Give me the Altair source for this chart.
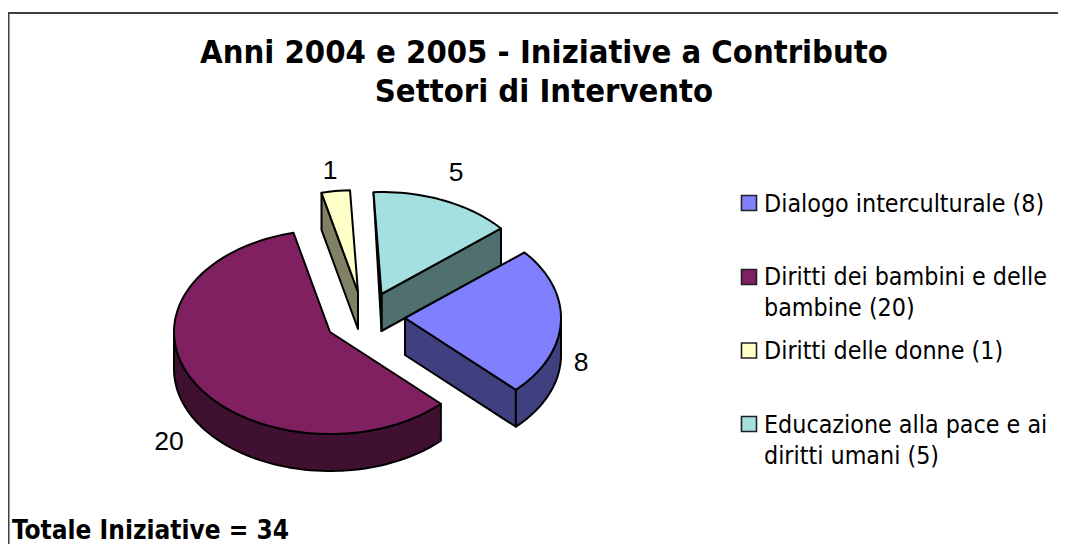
import math
import altair as alt
import pandas as pd

# ---- data ----
categories = ["Dialogo interculturale (8)", "Diritti dei bambini e delle bambine (20)",
              "Diritti delle donne (1)", "Educazione alla pace e ai diritti umani (5)"]
values = [8, 20, 1, 5]
value_labels = ["8", "20", "1", "5"]
top_colors = ["#8080FF", "#802060", "#FFFFC8", "#A4E0E0"]
side_colors = ["#404080", "#401030", "#808064", "#507070"]
title_lines = ["Anni 2004 e 2005 - Iniziative a Contributo", "Settori di Intervento"]
footer = "Totale Iniziative = 34"
legend_lines = [["Dialogo interculturale (8)"], ["Diritti dei bambini e delle", "bambine (20)"],
                ["Diritti delle donne (1)"], ["Educazione alla pace e ai", "diritti umani (5)"]]

# ---- pie geometry (page pixel frame) ----
FIRST_ANGLE = 50.0
RX, RY, DEPTH = 156.0, 102.0, 37.0
tips = [(405, 318), (330, 332), (358, 292), (381.5, 294)]
FONT = "DejaVu Sans Condensed"
LABEL_FONT = "Liberation Sans"

total = sum(values)
angles = []
a = FIRST_ANGLE
for v in values:
    angles.append((a, a + 360.0 * v / total))
    a += 360.0 * v / total


def pt(tip, deg, dy=0.0):
    r = math.radians(deg)
    return (tip[0] + RX * math.sin(r), tip[1] - RY * math.cos(r) + dy)


def arc(tip, a0, a1, dy=0.0):
    n = max(2, int(abs(a1 - a0) / 2) + 1)
    return [pt(tip, a0 + (a1 - a0) * i / (n - 1), dy) for i in range(n)]


def top_face(i):
    tip = tips[i]
    a0, a1 = angles[i]
    return [tip] + arc(tip, a0, a1) + [tip]


def rim(i, a0, a1):
    tip = tips[i]
    return arc(tip, a0, a1) + arc(tip, a1, a0, DEPTH) + [pt(tip, a0)]


def wall(i, deg):
    tip = tips[i]
    p = pt(tip, deg)
    return [tip, p, (p[0], p[1] + DEPTH), (tip[0], tip[1] + DEPTH), tip]


X = alt.Scale(domain=[8, 1058], nice=False, zero=False)
Y = alt.Scale(domain=[544, 8], nice=False, zero=False)


def polygon(points, fill):
    df = pd.DataFrame({"x": [p[0] for p in points], "y": [p[1] for p in points],
                       "i": list(range(len(points)))})
    return alt.Chart(df).mark_line(fill=fill, stroke="#000000", strokeWidth=2,
                                   strokeJoin="round").encode(
        x=alt.X("x:Q", scale=X, axis=None),
        y=alt.Y("y:Q", scale=Y, axis=None),
        order="i:Q",
    )


def text(rows, size, font, weight="normal", align="left"):
    df = pd.DataFrame(rows, columns=["x", "y", "t"])
    return alt.Chart(df).mark_text(fontSize=size, font=font, fontWeight=weight, align=align,
                                   baseline="alphabetic", color="#000000").encode(
        x=alt.X("x:Q", scale=X, axis=None),
        y=alt.Y("y:Q", scale=Y, axis=None),
        text="t:N",
    )


layers = []

# frame: top and left only
layers.append(alt.Chart(pd.DataFrame({"x": [8.5, 8.5, 1058], "y": [544, 13, 13], "i": [0, 1, 2]}))
              .mark_line(stroke="#404040", strokeWidth=2)
              .encode(x=alt.X("x:Q", scale=X, axis=None), y=alt.Y("y:Q", scale=Y, axis=None), order="i:Q"))

# painter's order: big slice, small slice, teal slice, blue slice
layers.append(polygon(rim(1, 270, angles[1][0]), side_colors[1]))
layers.append(polygon(top_face(1), top_colors[1]))

layers.append(polygon(wall(2, angles[2][0]), side_colors[2]))
layers.append(polygon(top_face(2), top_colors[2]))

layers.append(polygon(wall(3, angles[3][1]), side_colors[3]))
tip5 = tips[3]
p5 = pt(tip5, angles[3][0] - 360)
layers.append(polygon([p5, tip5, (tip5[0], tip5[1] + DEPTH), p5], side_colors[3]))
layers.append(polygon(top_face(3), top_colors[3]))

layers.append(polygon(wall(0, angles[0][1]), side_colors[0]))
layers.append(polygon(rim(0, 90, angles[0][1]), side_colors[0]))
layers.append(polygon(top_face(0), top_colors[0]))

# value labels
label_pos = [(581, 371), (169, 450), (330, 179), (456, 181)]
layers.append(text([(p[0], p[1], t) for p, t in zip(label_pos, value_labels)], 26.5, LABEL_FONT, align="center"))

# title and footer
layers.append(text([(544, 62.5, title_lines[0]), (544, 101.5, title_lines[1])], 32.5, FONT, "bold", "center"))
layers.append(text([(12, 538.5, footer)], 26, FONT, "bold"))

# legend
sq = pd.DataFrame({"x": [749, 749, 749, 749], "y": [203, 277, 350.5, 424], "c": categories})
layers.append(alt.Chart(sq).mark_square(size=225, stroke="#202020", strokeWidth=1.6, opacity=1).encode(
    x=alt.X("x:Q", scale=X, axis=None),
    y=alt.Y("y:Q", scale=Y, axis=None),
    fill=alt.Fill("c:N", scale=alt.Scale(domain=categories, range=top_colors), legend=None),
))
baselines = [[212], [285, 316], [359], [433, 464]]
rows = []
for lines, ys in zip(legend_lines, baselines):
    for line, y in zip(lines, ys):
        rows.append((764, y, line))
layers.append(text(rows, 24.8, FONT))

chart = alt.layer(*layers).properties(
    width=1050, height=536, padding=0, autosize="none", background="#FFFFFF"
).configure_view(stroke=None)

chart.save("out.html", embed_options={"renderer": "svg", "actions": False})
